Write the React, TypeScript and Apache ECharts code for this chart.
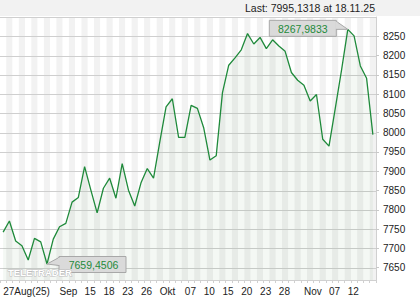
import React, { useEffect, useRef } from "react";
import * as echarts from "echarts";

const dates = [
  "2025-08-27", "2025-08-28", "2025-08-29",
  "2025-09-01", "2025-09-02", "2025-09-03", "2025-09-04", "2025-09-05",
  "2025-09-08", "2025-09-09", "2025-09-10", "2025-09-11", "2025-09-12",
  "2025-09-15", "2025-09-16", "2025-09-17", "2025-09-18", "2025-09-19",
  "2025-09-22", "2025-09-23", "2025-09-24", "2025-09-25", "2025-09-26",
  "2025-09-29", "2025-09-30",
  "2025-10-01", "2025-10-02", "2025-10-03",
  "2025-10-06", "2025-10-07", "2025-10-08", "2025-10-09", "2025-10-10",
  "2025-10-13", "2025-10-14", "2025-10-15", "2025-10-16", "2025-10-17",
  "2025-10-20", "2025-10-21", "2025-10-22", "2025-10-23", "2025-10-24",
  "2025-10-27", "2025-10-28", "2025-10-29", "2025-10-30", "2025-10-31",
  "2025-11-03", "2025-11-04", "2025-11-05", "2025-11-06", "2025-11-07",
  "2025-11-10", "2025-11-11", "2025-11-12", "2025-11-13", "2025-11-14",
  "2025-11-17", "2025-11-18",
];

const values = [
  7742, 7771, 7719, 7707, 7670, 7726, 7717, 7659.4506, 7724, 7756,
  7765, 7820, 7832, 7912, 7851, 7792, 7856, 7882, 7830, 7920,
  7851, 7810, 7870, 7907, 7882, 7976, 8067, 8088, 7988, 7988,
  8071, 8063, 8013, 7929, 7940, 8104, 8175, 8194, 8215, 8257,
  8230, 8247, 8218, 8241, 8225, 8211, 8156, 8136, 8123, 8082,
  8099, 7983, 7965, 8063, 8162, 8267.9833, 8251, 8173, 8141, 7995.1318,
];

const xTickIndex = [0, 9, 13, 16, 19, 22, 25, 29, 32, 35, 38, 41, 44, 48, 52, 55];
const xTickText = ["27Aug(25)", "Sep", "15", "18", "23", "26", "Okt", "07", "10", "15", "20", "23", "28", "Nov", "07", "12"];

const yTickValues = [7650, 7700, 7750, 7800, 7850, 7900, 7950, 8000, 8050, 8100, 8150, 8200, 8250];
const yGridValues = [7650, 7700, 7750, 7800, 7850, 7900, 7950, 8000, 8050, 8100, 8150, 8200, 8250, 8300];

const titleText = "Last: 7995,1318 at 18.11.25";
const maxLabel = "8267,9833";
const minLabel = "7659,4506";
const maxIndex = 55;
const minIndex = 7;

const FONT = "'Liberation Sans', Arial, sans-serif";
const GREEN = "#1f8a3b";

export default function App() {
  const ref = useRef<HTMLDivElement>(null);
  useEffect(() => {
    document.body.style.margin = "0";
    const chart = echarts.init(ref.current!, null, { renderer: "svg" });
    chart.setOption({
      animation: false,
      backgroundColor: "#ffffff",
      grid: { left: 0, right: 44, top: 17, bottom: 20 },
      xAxis: {
        type: "category",
        data: dates,
        boundaryGap: true,
        axisLine: { show: true, lineStyle: { color: "#d0d0d0" } },
        axisTick: { show: true, interval: 0, length: 3, lineStyle: { color: "#d0d0d0" } },
        axisLabel: {
          interval: (i: number) => xTickIndex.indexOf(i) >= 0,
          formatter: (_v: string, i: number) => {
            const k = xTickIndex.indexOf(i);
            return k >= 0 ? xTickText[k] : "";
          },
          align: "left",
          margin: 6,
          color: "#222",
          fontSize: 10,
          fontFamily: FONT,
        },
        splitLine: { show: false },
        splitArea: { show: true, interval: 0, areaStyle: { color: ["#ffffff", "#f2f2f2"] } },
      },
      yAxis: {
        type: "value",
        position: "right",
        min: 7618,
        max: 8300,
        axisLine: { show: true, lineStyle: { color: "#d0d0d0" } },
        axisTick: { show: true, length: 3, customValues: yTickValues, lineStyle: { color: "#c8c8c8" } },
        axisLabel: {
          customValues: yTickValues,
          formatter: (v: number) => String(v),
          margin: 7,
          color: "#222",
          fontSize: 10,
          fontFamily: FONT,
        },
        splitLine: { show: false },
      },
      series: [
        {
          type: "line",
          data: values,
          symbol: "none",
          lineStyle: { color: GREEN, width: 1.3 },
          areaStyle: { color: "rgba(60,130,60,0.08)" },
          z: 3,
        },
        {
          type: "custom",
          coordinateSystem: "cartesian2d",
          silent: true,
          z: 2,
          clip: false,
          data: yGridValues.map((v) => [0, v]),
          renderItem: (params: any, api: any) => {
            const cs = params.coordSys;
            const y = Math.round(api.coord([0, api.value(1)])[1]) + 0.5;
            return {
              type: "rect",
              shape: { x: cs.x, y: y - 0.5, width: cs.width, height: 1 },
              style: { fill: "#cfcfcf" },
            };
          },
        },
      ],
    });

    const [mx, my] = chart.convertToPixel({ seriesIndex: 0 }, [maxIndex, values[maxIndex]]) as number[];
    const [nx, ny] = chart.convertToPixel({ seriesIndex: 0 }, [minIndex, values[minIndex]]) as number[];
    const bw = 67, bh = 16;
    const maxR = mx - 11.5, maxT = my - 9;
    const minL = nx + 12, minT = ny - 7.5;
    const boxStyle = { fill: "#dadada", stroke: "#a8a8a8", lineWidth: 1 };
    const tailStyle = { fill: "#dadada", stroke: "#a8a8a8", lineWidth: 1 };

    chart.setOption({
      graphic: [
        { type: "rect", shape: { x: 0, y: 0, width: 420, height: 16 }, style: { fill: "#f2f2f2" }, z: 1, silent: true },
        {
          type: "text", x: 375, y: 8,
          style: { text: titleText, fill: "#222", font: `10.5px ${FONT}`, textAlign: "right", textVerticalAlign: "middle" },
          z: 10,
        },
        {
          type: "polygon",
          shape: { points: [[maxR, maxT + 1], [mx, my], [maxR, maxT + 9]] },
          style: tailStyle, z: 10,
        },
        { type: "rect", shape: { x: maxR - bw, y: maxT, width: bw, height: bh }, style: boxStyle, z: 10 },
        {
          type: "rect", shape: { x: maxR - 1, y: maxT + 1.5, width: 2, height: 7 },
          style: { fill: "#dadada" }, z: 11,
        },
        {
          type: "text", x: maxR - bw / 2, y: maxT + bh / 2 + 0.5,
          style: { text: maxLabel, fill: GREEN, font: `10.5px ${FONT}`, textAlign: "center", textVerticalAlign: "middle" },
          z: 12,
        },
        {
          type: "polygon",
          shape: { points: [[nx, ny], [minL, minT + 1], [minL, minT + 9]] },
          style: tailStyle, z: 10,
        },
        { type: "rect", shape: { x: minL, y: minT, width: bw, height: bh }, style: boxStyle, z: 10 },
        {
          type: "rect", shape: { x: minL - 1, y: minT + 1.5, width: 2, height: 7 },
          style: { fill: "#dadada" }, z: 11,
        },
        {
          type: "text", x: minL + bw / 2 + 1, y: minT + bh / 2 + 0.5,
          style: { text: minLabel, fill: GREEN, font: `10.5px ${FONT}`, textAlign: "center", textVerticalAlign: "middle" },
          z: 12,
        },
        {
          type: "text", x: 8, y: 272,
          style: {
            text: "TELETRADER", fill: "#ffffff", stroke: "#bdbdbd", lineWidth: 1,
            font: `bold 9.5px ${FONT}`, textAlign: "left", textVerticalAlign: "middle",
          },
          z: 13,
        },
      ],
    });
    return () => chart.dispose();
  }, []);
  return <div ref={ref} style={{ width: 420, height: 300 }} />;
}
